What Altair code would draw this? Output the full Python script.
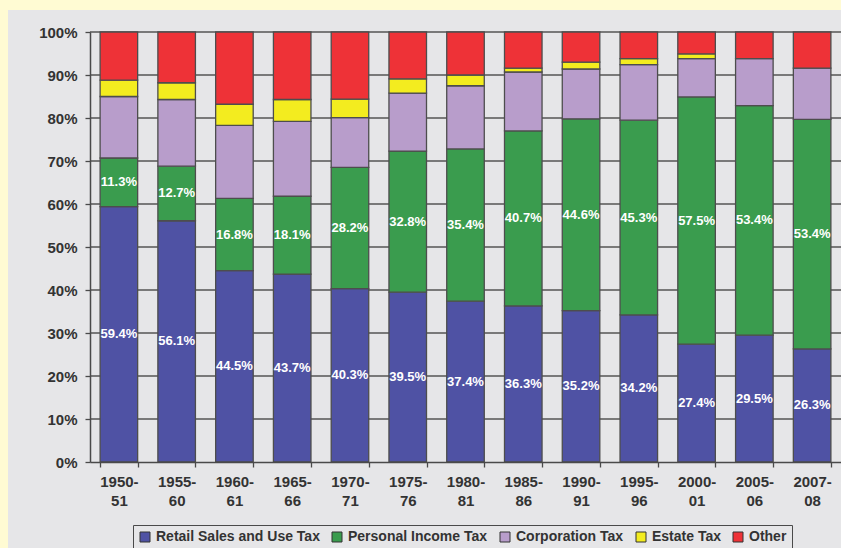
import altair as alt
import pandas as pd

periods = ["1950-51", "1955-60", "1960-61", "1965-66", "1970-71", "1975-76", "1980-81",
           "1985-86", "1990-91", "1995-96", "2000-01", "2005-06", "2007-08"]
series = ["Retail Sales and Use Tax", "Personal Income Tax", "Corporation Tax", "Estate Tax", "Other"]
colors = ["#4F52A4", "#3A9C4E", "#B89DCB", "#F3EC1F", "#EE3237"]

retail = [59.4, 56.1, 44.5, 43.7, 40.3, 39.5, 37.4, 36.3, 35.2, 34.2, 27.4, 29.5, 26.3]
income = [11.3, 12.7, 16.8, 18.1, 28.2, 32.8, 35.4, 40.7, 44.6, 45.3, 57.5, 53.4, 53.4]
corp = [14.3, 15.5, 17.0, 17.4, 11.6, 13.5, 14.7, 13.7, 11.6, 12.9, 8.9, 10.9, 11.9]
estate = [3.8, 3.9, 4.9, 5.1, 4.3, 3.3, 2.5, 0.9, 1.6, 1.4, 1.1, 0.0, 0.0]
other = [11.2, 11.8, 16.8, 15.7, 15.6, 10.9, 10.0, 8.4, 7.0, 6.2, 5.1, 6.2, 8.4]

y_ticks = [0, 10, 20, 30, 40, 50, 60, 70, 80, 90, 100]
grid_vals = [10, 20, 30, 40, 50, 60, 70, 80, 90, 100]

rows = []
for i, p in enumerate(periods):
    for k, vals in enumerate([retail, income, corp, estate, other]):
        rows.append({"period": p, "series": series[k], "ord": k, "value": vals[i]})
df = pd.DataFrame(rows)

W, H = 751, 430
FONT = "Liberation Sans"
TXT = "#333333"
LINE = "#4a4a4a"

xscale = alt.Scale(domain=periods, paddingInner=0.35, paddingOuter=0.175)
yscale = alt.Scale(domain=[0, 100], nice=False)

xaxis = alt.Axis(title=None, labelAngle=0,
                 labelExpr="[slice(datum.label, 0, 5), slice(datum.label, 5)]",
                 labelFontSize=15, labelFontWeight="bold", labelColor=TXT, labelFont=FONT,
                 labelLineHeight=19, labelPadding=7, tickBand="extent", tickSize=5,
                 tickColor=LINE, tickWidth=1.3, domainColor=LINE, domainWidth=1.5,
                 grid=False, zindex=1)
yaxis = alt.Axis(title=None, values=y_ticks, labelExpr="datum.value + '%'",
                 labelFontSize=15, labelFontWeight="bold", labelColor=TXT, labelFont=FONT,
                 labelPadding=8, tickSize=5, tickColor=LINE, tickWidth=1.3,
                 domainColor=LINE, domainWidth=1.5, grid=False, zindex=1)

panel = alt.Chart(pd.DataFrame({"k": [0]})).mark_rect(color="#E6E6E8").encode(
    x=alt.value(-82), x2=alt.value(W + 20), y=alt.value(-22), y2=alt.value(H + 100)
)

grid = alt.Chart(pd.DataFrame({"g": grid_vals})).mark_rule(color="#555555", strokeWidth=1.4).encode(
    y=alt.Y("g:Q", scale=yscale, axis=yaxis)
)

bars = alt.Chart(df).transform_filter("datum.value > 0").mark_bar(
    stroke="#4d4d4d", strokeWidth=1.3
).encode(
    x=alt.X("period:N", scale=xscale, axis=xaxis),
    y=alt.Y("value:Q", stack="zero", scale=yscale, axis=yaxis),
    color=alt.Color("series:N", scale=alt.Scale(domain=series, range=colors),
                    legend=alt.Legend(title=None, orient="none", legendX=43, legendY=493,
                                      direction="horizontal", symbolType="square",
                                      symbolSize=100, symbolStrokeColor="#333333",
                                      symbolStrokeWidth=1, labelFontSize=14,
                                      labelFontWeight="bold", labelColor=TXT, labelFont=FONT,
                                      labelLimit=400, columnPadding=10, labelOffset=4,
                                      strokeColor=LINE, fillColor="#E6E6E8", padding=5,
                                      zindex=1)),
    order=alt.Order("ord:Q", sort="ascending"),
)

labels = alt.Chart(df).transform_stack(
    stack="value", groupby=["period"], as_=["v0", "v1"],
    sort=[alt.SortField("ord", order="ascending")]
).transform_calculate(
    mid="(datum.v0 + datum.v1) / 2",
    lbl="format(datum.value, '.1f') + '%'"
).transform_filter("datum.ord < 2").mark_text(
    color="white", fontWeight="bold", fontSize=13, font=FONT, baseline="middle"
).encode(
    x=alt.X("period:N", scale=xscale, axis=xaxis),
    y=alt.Y("mid:Q", scale=yscale, axis=yaxis),
    text="lbl:N",
)

chart = alt.layer(panel, grid, bars, labels).properties(
    width=W, height=H,
    padding={"left": 90, "top": 32, "right": 0, "bottom": 86},
    autosize=alt.AutoSizeParams(type="none"),
    background="#FFFBD3",
).configure(font=FONT).configure_view(strokeWidth=0)

chart.save("out.html", embed_options={"renderer": "svg", "actions": False})
